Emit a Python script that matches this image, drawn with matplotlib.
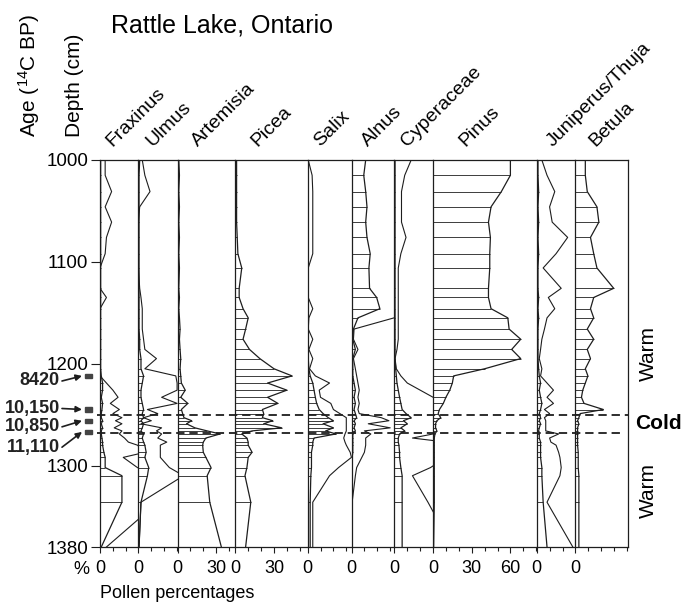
import numpy as np
import matplotlib
matplotlib.use('Agg')
import matplotlib.pyplot as plt
from matplotlib.patches import Rectangle
from matplotlib.ticker import FixedLocator, MultipleLocator

plt.rcParams['font.family'] = ['Liberation Sans', 'DejaVu Sans']
plt.rcParams['lines.scale_dashes'] = False

# sample depths (cm), shared by all taxa
depths = [1000, 1015, 1031, 1046, 1061, 1076, 1092, 1106,
          1126, 1135, 1146, 1155, 1166, 1176, 1186, 1195, 1205,
          1212, 1219, 1226, 1233, 1239, 1245, 1249, 1253, 1256, 1259,
          1263, 1266, 1269, 1273, 1277, 1280, 1287, 1292, 1302, 1310,
          1336, 1380]

taxa = ['Fraxinus', 'Ulmus', 'Artemisia', 'Picea', 'Salix', 'Alnus',
        'Cyperaceae', 'Pinus', 'Juniperus/Thuja', 'Betula']

# pollen percentages (hatched curves)
fraxinus = [0.5, 0.5, 0.5, 0.5, 0.5, 0.5, 0.5, 0.5,
            0.5, 0.5, 0.5, 0.5, 0.5, 0.5, 0.5, 0.5, 0.5,
            1, 2, 2, 1, 2, 1.5, 1, 1, 2, 1,
            2, 1, 1, 1.5, 2, 2, 3, 4, 4, 17,
            17, 1]
ulmus = [1, 0.5, 0.5, 0.5, 0.5, 0.5, 0.5, 0.5,
         0.5, 0.5, 0.5, 0.5, 0.5, 1, 1, 2, 2,
         4, 3, 2, 2, 3, 4, 3, 4, 2, 4,
         3, 2, 4, 3, 4, 5, 6, 5, 8, 7,
         2, 0.5]
artemisia = [1, 1.5, 1, 1.5, 1, 1.5, 1, 1.5,
             1, 1.5, 1, 1.5, 2, 1.5, 2, 2.5, 2,
             2.5, 3, 6, 2.5, 8, 3, 4, 5, 11, 7,
             13.5, 23, 33, 22, 20, 19.5, 20, 22, 26, 23,
             25, 34]
picea = [1, 1, 1, 1, 1, 1.5, 2, 5,
         3, 3, 6, 10, 8, 6, 11, 19, 30,
         44, 25, 40, 25, 33, 21, 22, 21, 29, 22,
         36, 13, 5, 9, 10, 10, 13, 10, 9, 7.5,
         12, 8]
salix = [0.5, 0.5, 0.5, 0.5, 0.5, 0.5, 0.5, 0.5,
         0.5, 0.5, 0.5, 0.5, 0.5, 0.5, 0.5, 0.5, 1,
         2, 4, 5, 6, 7, 9, 12, 16, 20, 12,
         20, 14, 22, 5, 4, 4, 3, 3, 3, 2.5,
         2, 2]
alnus = [11, 9.5, 11, 12, 11, 12, 14.5, 13.5,
         14, 19.5, 22, 5, 1.5, 1, 3, 1, 1,
         1, 2, 3, 2, 3, 2, 3, 4, 2, 3,
         2, 3, 1, 1, 1, 1, 1, 0.5, 0.5, 0.5,
         0.5, 0.5]
cyperaceae = [0.5, 0.5, 0.5, 0.5, 0.5, 0.5, 0.5, 0.5,
              0.5, 0.5, 0.5, 0.5, 0.5, 0.5, 0.5, 0.5, 1,
              1.5, 2, 3, 4, 5, 6, 9, 13, 7, 10,
              5, 8, 4, 3, 3, 3.5, 4, 4, 5, 6,
              6, 6]
pinus = [60, 60, 53, 45, 43, 44.5, 44, 44,
         43, 43, 45, 58, 59, 68, 61, 68, 40,
         16, 15, 13, 10, 8, 5, 4, 6, 3, 2,
         2, 3, 1.5, 1, 1, 1, 1, 1, 1, 1,
         1, 0.5]
juniperus = [1, 1, 1.5, 1, 1.5, 1, 1.5, 1,
             1, 1.5, 1, 1.5, 1, 1, 1, 1, 1.5,
             2, 3, 2, 3, 4, 3, 2, 3, 2, 3,
             2, 1.5, 2, 2, 3, 3, 3, 3, 4, 4,
             5, 8]
betula = [8, 8, 9.5, 17, 18.5, 12, 14.5, 17,
          30, 14.5, 12, 14.5, 9.5, 14.5, 9.5, 12, 8,
          10, 8, 6, 5, 7, 22, 4, 3, 2, 3,
          2, 2, 2, 2, 2, 2, 2.5, 2.5, 2.5, 3,
          3, 3]

# exaggerated curves (open lines)
nan = np.nan
fraxinus_exag = [4, 4, 9, 4, 9, 5, 4, 0,
                 0, 5, 0, 0, 0, 0, 0, 0, 0,
                 0, 5, 10, 14, 8, 15, 10, 17, 12, 17,
                 11, 17, 15, 19, 22, 29, 35, 18, 29, 45,
                 45, 5]
ulmus_exag = [3, 5, 9, 1, 0, 0, 0, 0,
              1, 2, 3, 3, 3, 4, 5, 14, 5,
              29, 30, 30, 18, 30, 7, 15, 4, 10, 2,
              18, 14, 18, 15, 22, 17, 17, 17, 24, 35,
              2, 0.5]
salix_exag = [0.5, 3.5, 4, 4, 4, 4, 4, 0.5,
              0.5, 0.5, 4, 1, 0.5, 4, 1, 4, 1.5,
              6, 17, 9, 10, 18, 20, 25, 30, 30, 30,
              30, 30, 29, 28, 29, 30, 33, 34, 24, 17,
              4, 4]
alnus_exag = [nan, nan, nan, nan, nan, nan, nan, nan,
              nan, nan, nan, 33, 2, 1.5, 5, 1.5, 3,
              4, 5, 6, 5, 6, 5, 6, 23, 29, 13,
              30, 10, 15, 11, 11, 11, 10, 8, 4, 3,
              0.5, 0.5]
cyperaceae_exag = [13, 8, 5.5, 5.5, 5.5, 9, 5, 3,
                   3, 3, 3, 3, 3, 3, 2, 0.5, 1.5,
                   5, 10, 20, 30, 40, 40, 40, 40, 40, 40,
                   40, 40, 30, 14, 40, 40, 40, 40, 28, 14,
                   26, 45]
juniperus_exag = [4, 8, 14, 10, 12, 24, 15, 5,
                  19, 9, 14, 8, 6, 4, 3, 2, 4,
                  3, 8, 13, 8, 13, 6, 10, 6, 7, 7,
                  7, 7, 17, 10, 11, 15, 17, 18, 19, 18,
                  8, 28]

curves = [fraxinus, ulmus, artemisia, picea, salix, alnus,
          cyperaceae, pinus, juniperus, betula]
exag = [fraxinus_exag, ulmus_exag, None, None, salix_exag, alnus_exag,
        cyperaceae_exag, None, juniperus_exag, None]
pct_ticks = [[0], [0], [0, 30], [0, 30], [0], [0], [0], [0, 30, 60], [0], [0]]

depth_ticks = [1000, 1100, 1200, 1300, 1380]
age_labels = ['8420', '10,150', '10,850', '11,110']
age_depths = [1212, 1245, 1256, 1267]
cold_top, cold_bottom = 1250, 1268

# ---- layout (pixels) ----
W, H = 682, 606
fig = plt.figure(figsize=(W / 100, H / 100), dpi=100)
edges = [100, 138.4, 177.5, 235.3, 307.6, 351.5, 394.4, 433, 536.7, 575, 628]
label_x = [112, 152, 198, 257, 320, 368, 407, 465, 553, 595]
PX = 1.29  # pixels per percent
top, bot = 160, 547
ink = '#1e1e1e'


def box(x0, x1):
    return [x0 / W, 1 - bot / H, (x1 - x0) / W, (bot - top) / H]


for i, name in enumerate(taxa):
    ax = fig.add_axes(box(edges[i], edges[i + 1]))
    ax.set_xlim(0, (edges[i + 1] - edges[i]) / PX)
    ax.set_ylim(1380, 1000)
    vals = np.array(curves[i], dtype=float)
    ax.hlines(depths, 0, vals, color=ink, lw=0.6)
    ax.plot(vals, depths, color=ink, lw=0.9)
    if exag[i] is not None:
        ax.plot(exag[i], depths, color=ink, lw=0.8)
    for s in ['top', 'bottom', 'left', 'right']:
        ax.spines[s].set_linewidth(0.9)
        ax.spines[s].set_color(ink)
    ax.spines['right'].set_visible(i == len(taxa) - 1)
    ax.xaxis.set_major_locator(FixedLocator(pct_ticks[i]))
    ax.xaxis.set_minor_locator(MultipleLocator(10))
    ax.tick_params(axis='x', which='major', direction='out', length=4.5,
                   width=0.8, labelsize=13, pad=5, color=ink)
    ax.tick_params(axis='x', which='minor', direction='out', length=3,
                   width=0.8, color=ink)
    if i == 0:
        ax.set_yticks(depth_ticks)
        ax.tick_params(axis='y', direction='out', length=6.5, width=0.8,
                       labelsize=13.5, pad=2, color=ink)
    else:
        ax.set_yticks([])
    fig.text(label_x[i] / W, 1 - 147 / H, name, rotation=45,
             rotation_mode='anchor', ha='left', va='baseline', fontsize=14)

# overlay: x in pixels, y in depth
ov = fig.add_axes([0, 1 - bot / H, 1, (bot - top) / H], zorder=5)
ov.set_xlim(0, W)
ov.set_ylim(1380, 1000)
ov.axis('off')
ov.hlines([cold_top], 97, 628, colors=ink, lw=1.3, linestyles=(0, (6, 3.5)))
ov.hlines([cold_bottom], 97, 624, colors=ink, lw=1.3, linestyles=(0, (6, 3.5)))

text_dy = [5, -1, 6, 15]
for lab, d, dy in zip(age_labels, age_depths, text_dy):
    ov.add_patch(Rectangle((85, d - 2), 7, 4, color='#444444', clip_on=False))
    ov.annotate('', xy=(82, d), xytext=(62, d + dy),
                arrowprops=dict(arrowstyle='-|>', color=ink, lw=1.2,
                                mutation_scale=9, shrinkA=0, shrinkB=0))
    ov.text(60, d + dy, lab, ha='right', va='center', fontsize=13,
            fontweight='bold', color='#222222')

ov.text(648, 1190, 'Warm', rotation=90, ha='center', va='center', fontsize=15)
ov.text(658, 1259, 'Cold', ha='center', va='center', fontsize=15,
        fontweight='bold')
ov.text(648, 1325, 'Warm', rotation=90, ha='center', va='center', fontsize=15)

fig.text(222 / W, 1 - 32 / H, 'Rattle Lake, Ontario', ha='center',
         va='baseline', fontsize=18)
fig.text(29 / W, 1 - 137 / H, r'Age ($\mathregular{^{14}}$C BP)',
         rotation=90, ha='center', va='bottom', fontsize=15)
fig.text(75 / W, 1 - 137 / H, 'Depth (cm)', rotation=90, ha='center',
         va='bottom', fontsize=15)
fig.text(89 / W, 1 - 570 / H, '%', ha='right', va='center', fontsize=13)
fig.text(100 / W, 1 - 593 / H, 'Pollen percentages', ha='left',
         va='center', fontsize=13)

fig.savefig('out.png', dpi=100)
